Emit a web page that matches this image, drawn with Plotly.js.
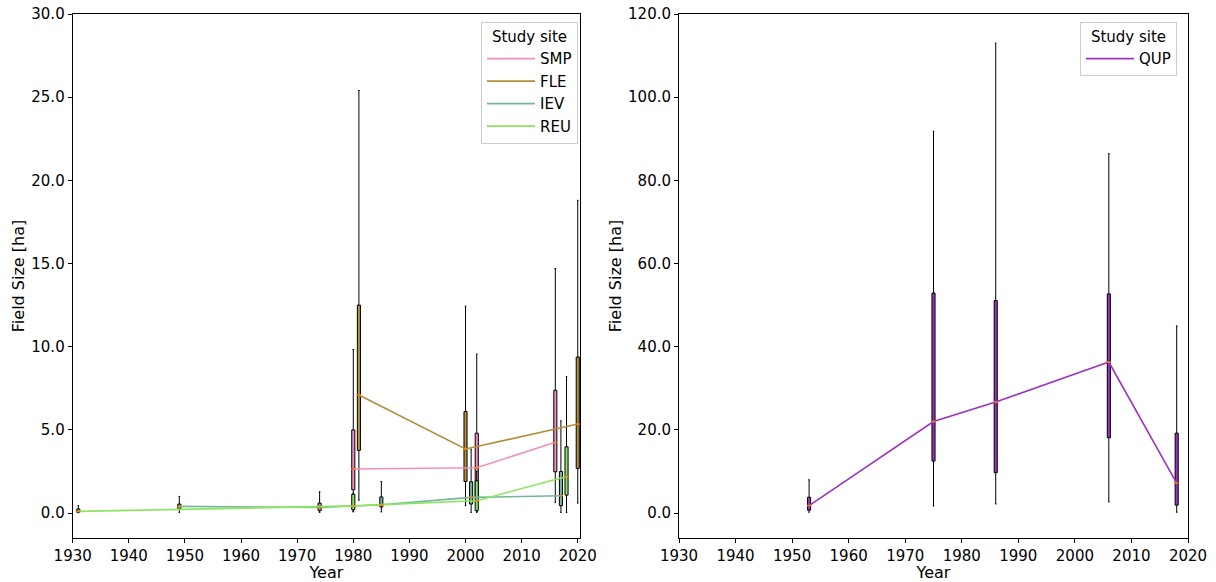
<!DOCTYPE html>
<html>
<head>
<meta charset="utf-8">
<script src="https://cdn.plot.ly/plotly-3.0.1.min.js"></script>
<style>html,body{margin:0;padding:0;background:#fff;}#chart{width:1216px;height:582px;}</style>
</head>
<body>
<div id="chart"></div>
<script>
// ---- data ----
const sites = ["SMP", "FLE", "IEV", "REU"];
const siteColors = ["#f28ec1", "#b38f3c", "#72b896", "#8ae65f"];

const smpYears = [1980, 2002, 2016];
const smpQ1    = [1.4, 1.0, 2.48];
const smpMed   = [2.65, 2.72, 4.25];
const smpQ3    = [5.0, 4.8, 7.38];
const smpLo    = [0.1, 0.1, 0.64];
const smpHi    = [9.83, 9.56, 14.7];

const fleYears = [1981, 2000, 2020];
const fleQ1    = [3.77, 1.9, 2.68];
const fleMed   = [7.1, 3.85, 5.35];
const fleQ3    = [12.5, 6.1, 9.38];
const fleLo    = [0.77, 0.44, 0.6];
const fleHi    = [25.4, 12.44, 18.8];

const ievYears = [1949, 1974, 1985, 2001, 2017];
const ievQ1    = [0.24, 0.14, 0.37, 0.54, 0.44];
const ievMed   = [0.4, 0.33, 0.5, 0.94, 1.04];
const ievQ3    = [0.54, 0.6, 0.97, 1.88, 2.5];
const ievLo    = [0.04, 0.04, 0.07, 0.04, 0.04];
const ievHi    = [1.0, 1.28, 1.9, 3.84, 5.54];

const reuYears = [1931, 1980, 2002, 2018];
const reuQ1    = [0.05, 0.2, 0.14, 1.08];
const reuMed   = [0.1, 0.43, 0.74, 2.2];
const reuQ3    = [0.25, 1.13, 1.94, 3.98];
const reuLo    = [0.02, 0.07, 0.04, 0.04];
const reuHi    = [0.45, 1.2, 2.5, 8.2];

const qupName  = "QUP";
const qupColor = "#9a32c2";
const qupYears = [1953, 1975, 1986, 2006, 2018];
const qupQ1    = [0.7, 12.5, 9.7, 18.1, 1.9];
const qupMed   = [1.8, 22.0, 26.7, 36.3, 7.2];
const qupQ3    = [3.8, 52.9, 51.1, 52.7, 19.2];
const qupLo    = [0.2, 1.7, 2.2, 2.7, 0.2];
const qupHi    = [8.0, 91.8, 113.0, 86.4, 45.0];

const leftTicks  = [0, 5, 10, 15, 20, 25, 30];
const rightTicks = [0, 20, 40, 60, 80, 100, 120];
const yearTicks  = [1930, 1940, 1950, 1960, 1970, 1980, 1990, 2000, 2010, 2020];

// ---- traces ----
const leftData = [
  [smpYears, smpQ1, smpMed, smpQ3, smpLo, smpHi],
  [fleYears, fleQ1, fleMed, fleQ3, fleLo, fleHi],
  [ievYears, ievQ1, ievMed, ievQ3, ievLo, ievHi],
  [reuYears, reuQ1, reuMed, reuQ3, reuLo, reuHi]
];

function boxTrace(d, color, xa, ya) {
  return {
    type: "box", x: d[0], q1: d[1], median: d[2], q3: d[3],
    lowerfence: d[4], upperfence: d[5],
    xaxis: xa, yaxis: ya, width: 0.55, whiskerwidth: 0.5,
    fillcolor: color, line: {color: "#000", width: 1},
    boxpoints: false, showlegend: false, hoverinfo: "skip"
  };
}
function medTrace(d, xa, ya) {
  return {
    type: "scatter", mode: "markers", x: d[0], y: d[2], xaxis: xa, yaxis: ya,
    marker: {symbol: "line-ew", size: 3, line: {color: "#ff7f0e", width: 1.5}},
    showlegend: false, hoverinfo: "skip"
  };
}
function lineTrace(d, name, color, xa, ya, legend) {
  return {
    type: "scatter", mode: "lines", x: d[0], y: d[2], xaxis: xa, yaxis: ya,
    name: name, legendgroup: name, legend: legend,
    line: {color: color, width: 1.6}, hoverinfo: "skip"
  };
}

const traces = [];
leftData.forEach((d, i) => traces.push(boxTrace(d, siteColors[i], "x", "y")));
const qupData = [qupYears, qupQ1, qupMed, qupQ3, qupLo, qupHi];
traces.push(boxTrace(qupData, qupColor, "x2", "y2"));
leftData.forEach((d, i) => traces.push(lineTrace(d, sites[i], siteColors[i], "x", "y", "legend")));
traces.push(lineTrace(qupData, qupName, qupColor, "x2", "y2", "legend2"));
leftData.forEach((d) => traces.push(medTrace(d, "x", "y")));
traces.push(medTrace(qupData, "x2", "y2"));

// ---- layout ----
const font = {family: "DejaVu Sans, sans-serif", size: 15, color: "#000"};
const titleFont = {family: "DejaVu Sans, sans-serif", size: 16, color: "#000"};
const axBase = {
  showline: true, mirror: true, linecolor: "#000", linewidth: 1,
  ticks: "outside", ticklen: 4, tickwidth: 1, tickcolor: "#000",
  showgrid: false, zeroline: false, tickfont: font
};
const legBase = {
  bordercolor: "#cccccc", borderwidth: 1, bgcolor: "rgba(255,255,255,0.8)",
  font: font, title: {text: "Study site", side: "top center", font: font},
  xanchor: "right", yanchor: "top", tracegroupgap: 0, itemwidth: 48
};

const layout = {
  width: 1216, height: 582,
  margin: {l: 0, r: 0, t: 14, b: 44},
  paper_bgcolor: "#fff", plot_bgcolor: "#fff",
  font: font, boxmode: "overlay",
  xaxis: Object.assign({}, axBase, {
    domain: [72.7 / 1216, 580 / 1216], range: [1930, 2020.4],
    tickvals: yearTicks, anchor: "y",
    title: {text: "Year", font: titleFont, standoff: 0}
  }),
  yaxis: Object.assign({}, axBase, {
    domain: [0, 1], range: [-1.5, 30], tickvals: leftTicks, tickformat: ".1f",
    anchor: "x", title: {text: "Field Size [ha]", font: titleFont, standoff: 2}
  }),
  xaxis2: Object.assign({}, axBase, {
    domain: [679 / 1216, 1188 / 1216], range: [1930, 2020],
    tickvals: yearTicks, anchor: "y2",
    title: {text: "Year", font: titleFont, standoff: 0}
  }),
  yaxis2: Object.assign({}, axBase, {
    domain: [0, 1], range: [-6, 120], tickvals: rightTicks, tickformat: ".1f",
    anchor: "x2", title: {text: "Field Size [ha]", font: titleFont, standoff: 2}
  }),
  legend: Object.assign({}, legBase, {x: 578 / 1216, y: 0.985}),
  legend2: Object.assign({}, legBase, {x: 1177 / 1216, y: 0.985}),
  showlegend: true
};

Plotly.newPlot("chart", traces, layout, {displayModeBar: false, staticPlot: true});
</script>
</body>
</html>
